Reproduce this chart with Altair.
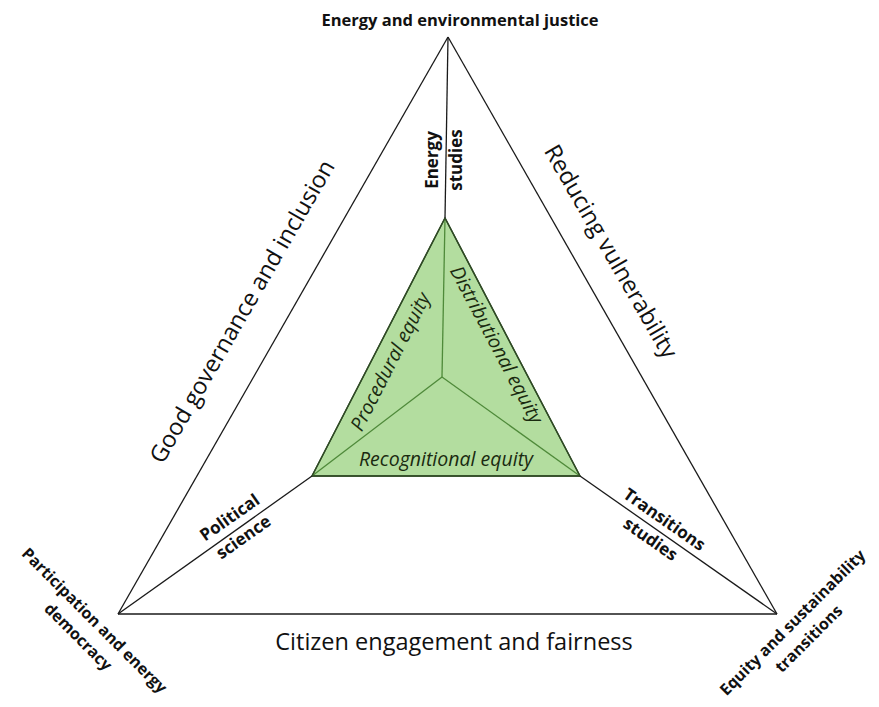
import altair as alt
import pandas as pd
import math

# Diagram geometry (page pixel coordinates)
outer_x = [448, 118, 777]
outer_y = [37, 614, 614]
inner_x = [445, 312, 580]
inner_y = [218, 476, 476]
center_x = [442]
center_y = [377]

# Labels
label_text = [
    "Energy and environmental justice",
    "Good governance and inclusion",
    "Reducing vulnerability",
    "Citizen engagement and fairness",
    "Energy\nstudies",
    "Political\nscience",
    "Transitions\nstudies",
    "Participation and energy\ndemocracy",
    "Equity and sustainability\ntransitions",
    "Procedural equity",
    "Distributional equity",
    "Recognitional equity",
]
label_x = [460, 243, 610, 454, 445, 237, 657, 86, 801, 391, 496, 446]
label_y = [21, 312, 252, 643, 160, 528, 530, 629, 631, 362, 345, 460]
label_angle = [0, 300, 60, 0, 270, 325, 35, 45, 315, 297, 62, 0]
label_kind = ["title", "big", "big", "big", "bold", "bold", "bold", "corner", "corner",
              "ital", "ital", "ital"]

W, H = 863, 691
FONT = "Open Sans"
SIZES = {"title": 16.5, "bold": 17, "corner": 16, "big": 23.5, "ital": 19.5}
LHS = {"title": 22, "bold": 24, "corner": 23, "big": 28, "ital": 24}
xs = alt.Scale(domain=[8, 8 + W])
ys = alt.Scale(domain=[8, 8 + H], reverse=True)

# Outer edges + spokes from inner to outer vertices
seg = []
for i in range(3):
    j = (i + 1) % 3
    seg.append(dict(x=outer_x[i], y=outer_y[i], x2=outer_x[j], y2=outer_y[j], kind="outer"))
    seg.append(dict(x=inner_x[i], y=inner_y[i], x2=outer_x[i], y2=outer_y[i], kind="outer"))
    seg.append(dict(x=center_x[0], y=center_y[0], x2=inner_x[i], y2=inner_y[i], kind="spoke"))
    seg.append(dict(x=inner_x[i], y=inner_y[i], x2=inner_x[j], y2=inner_y[j], kind="inner"))
seg_df = pd.DataFrame(seg)

# inner triangle polygon
tri_df = pd.DataFrame({"x": inner_x + [inner_x[0]], "y": inner_y + [inner_y[0]], "o": [0, 1, 2, 3]})

fill = alt.Chart(tri_df).mark_line(fill="#b3dd9f", stroke="#2f4a25", strokeWidth=1.4,
                                   interpolate="linear-closed").encode(
    x=alt.X("x:Q", scale=xs, axis=None),
    y=alt.Y("y:Q", scale=ys, axis=None),
    order=alt.Order("o:Q"),
)

def rules(kind, color, width):
    return alt.Chart(seg_df).transform_filter(alt.datum.kind == kind).mark_rule(
        color=color, strokeWidth=width
    ).encode(
        x=alt.X("x:Q", scale=xs, axis=None),
        y=alt.Y("y:Q", scale=ys, axis=None),
        x2="x2:Q",
        y2="y2:Q",
    )

outer = rules("outer", "#1a1a1a", 1.3)
spokes = rules("spoke", "#4f8a3a", 1.3)
inner = rules("inner", "#2f4a25", 1.4)

# anchor multi-line blocks so the block centre lands on the given point
ax, ay = [], []
for t, x, y, a, k in zip(label_text, label_x, label_y, label_angle, label_kind):
    n = t.count("\n") + 1
    lh = LHS[k]
    r = math.radians(a)
    off = (n - 1) / 2 * lh
    ax.append(x - off * (-math.sin(r)))
    ay.append(y - off * math.cos(r))

lab_df = pd.DataFrame({
    "text": label_text, "x": ax, "y": ay,
    "angle": label_angle, "kind": label_kind,
})

def texts(kind, weight, style, color="#111111"):
    size = SIZES[kind]
    return alt.Chart(lab_df).transform_filter(alt.datum.kind == kind).mark_text(
        font=FONT, fontSize=size, fontWeight=weight, fontStyle=style,
        align="center", baseline="middle", lineBreak="\n", lineHeight=LHS[kind],
        color=color,
    ).encode(
        x=alt.X("x:Q", scale=xs, axis=None),
        y=alt.Y("y:Q", scale=ys, axis=None),
        text="text:N",
        angle=alt.Angle("angle:Q", scale=None),
    )

t_title = texts("title", "bold", "normal")
t_bold = texts("bold", "bold", "normal")
t_corner = texts("corner", "bold", "normal")
t_big = texts("big", "normal", "normal")
t_ital = texts("ital", "normal", "italic", "#1a2a10")

chart = alt.layer(fill, spokes, inner, outer, t_title, t_bold, t_corner, t_big, t_ital).properties(
    width=W, height=H, padding=0, autosize=alt.AutoSizeParams(type="none"),
    background="white",
).configure_view(strokeWidth=0)

chart.save("out.html", embed_options={"renderer": "svg", "actions": False})
